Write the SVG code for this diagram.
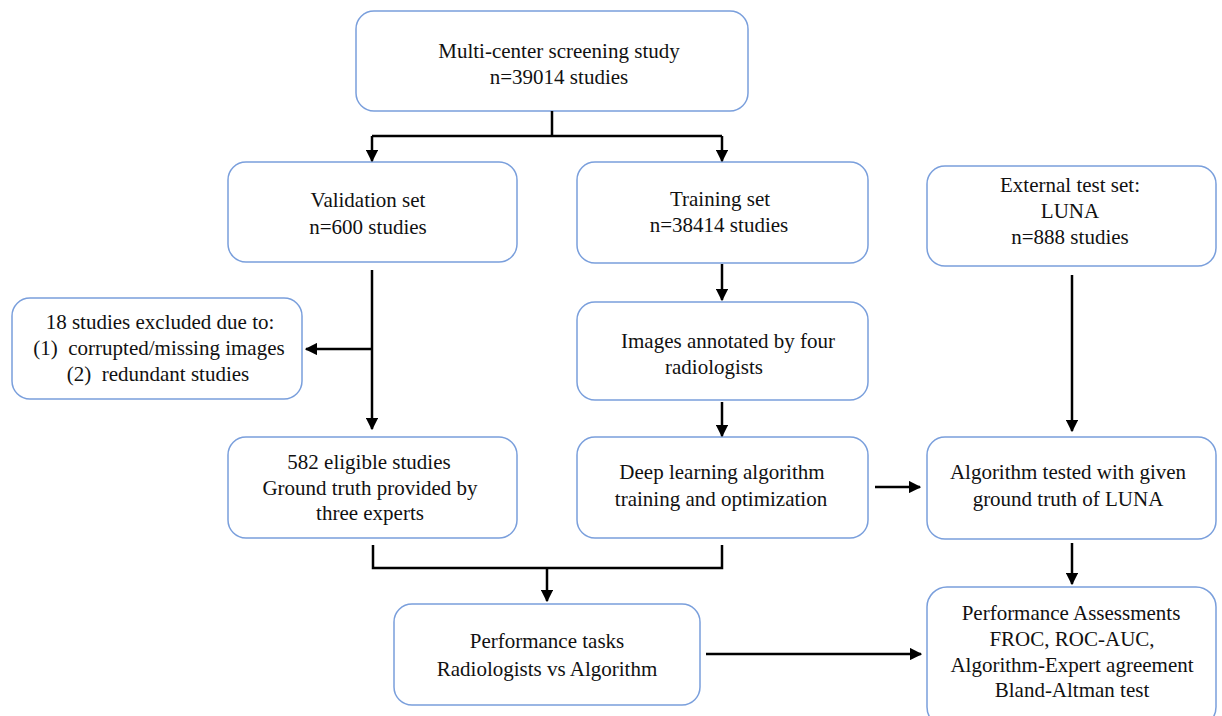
<svg xmlns="http://www.w3.org/2000/svg" width="1222" height="716" viewBox="0 0 1222 716">
<defs>
<marker id="ah" viewBox="0 0 10 10" refX="9" refY="5" markerWidth="5" markerHeight="5" orient="auto-start-reverse" markerUnits="strokeWidth">
<path d="M0,0 L10,5 L0,10 z" fill="#000"/>
</marker>
<style>
.box{fill:#fff;stroke:#7a9fdc;stroke-width:1.5}
.t{font-family:"Liberation Serif","Times New Roman",serif;font-size:21px;fill:#111;text-anchor:middle;white-space:pre}
.c{fill:none;stroke:#000;stroke-width:2.5}
.a{marker-end:url(#ah)}
</style>
</defs>
<rect width="1222" height="716" fill="#fff"/>
<g id="n-top"><rect class="box" x="356" y="11" width="392" height="100" rx="18"/>
<text class="t" x="559" y="58">Multi-center screening study</text><text class="t" x="559" y="84">n=39014 studies</text></g>
<g id="n-val"><rect class="box" x="228" y="162" width="289" height="100" rx="18"/>
<text class="t" x="368" y="207">Validation set</text><text class="t" x="368" y="234">n=600 studies</text></g>
<g id="n-train"><rect class="box" x="577" y="162" width="291" height="101" rx="18"/>
<text class="t" x="720" y="206">Training set</text><text class="t" x="719" y="232">n=38414 studies</text></g>
<g id="n-ext"><rect class="box" x="927" y="166" width="289" height="100" rx="18"/>
<text class="t" x="1070" y="192">External test set:</text><text class="t" x="1070" y="218">LUNA</text><text class="t" x="1070" y="244">n=888 studies</text></g>
<g id="n-excl"><rect class="box" x="12" y="298" width="290" height="101" rx="18"/>
<text class="t" x="160" y="329" xml:space="preserve">18 studies excluded due to:</text><text class="t" x="159" y="355" xml:space="preserve">(1)  corrupted/missing images</text><text class="t" x="158" y="381" xml:space="preserve">(2)  redundant studies</text></g>
<g id="n-annot"><rect class="box" x="577" y="302" width="291" height="98" rx="18"/>
<text class="t" x="728" y="348">Images annotated by four</text><text class="t" x="714" y="374">radiologists</text></g>
<g id="n-elig"><rect class="box" x="228" y="437" width="289" height="101" rx="18"/>
<text class="t" x="369" y="469">582 eligible studies</text><text class="t" x="370" y="495">Ground truth provided by</text><text class="t" x="370" y="520">three experts</text></g>
<g id="n-deep"><rect class="box" x="577" y="437" width="291" height="101" rx="18"/>
<text class="t" x="722" y="479">Deep learning algorithm</text><text class="t" x="721" y="506">training and optimization</text></g>
<g id="n-algo"><rect class="box" x="927" y="437" width="289" height="102" rx="18"/>
<text class="t" x="1068" y="479">Algorithm tested with given</text><text class="t" x="1068" y="506">ground truth of LUNA</text></g>
<g id="n-perf"><rect class="box" x="394" y="604" width="306" height="101" rx="18"/>
<text class="t" x="547" y="648">Performance tasks</text><text class="t" x="547" y="676">Radiologists vs Algorithm</text></g>
<g id="n-assess"><rect class="box" x="927" y="587" width="289" height="140" rx="20"/>
<text class="t" x="1071" y="620">Performance Assessments</text><text class="t" x="1072" y="646">FROC, ROC-AUC,</text><text class="t" x="1072" y="672">Algorithm-Expert agreement</text><text class="t" x="1072" y="697">Bland-Altman test</text></g>
<g id="connectors">
<path class="c" d="M552,111 V136 M372,136 H722"/>
<path class="c a" d="M372,136 V161"/>
<path class="c a" d="M722,136 V161"/>
<path class="c a" d="M372,270 V429"/>
<path class="c a" d="M372,349 H306"/>
<path class="c a" d="M722,264 V300"/>
<path class="c a" d="M722,402 V436"/>
<path class="c a" d="M1072,275 V431"/>
<path class="c a" d="M875,487 H920"/>
<path class="c a" d="M1072,543 V584"/>
<path class="c" d="M373,545 V568 H722 V545"/>
<path class="c a" d="M547,568 V601"/>
<path class="c a" d="M706,654 H921"/>
</g>
</svg>
